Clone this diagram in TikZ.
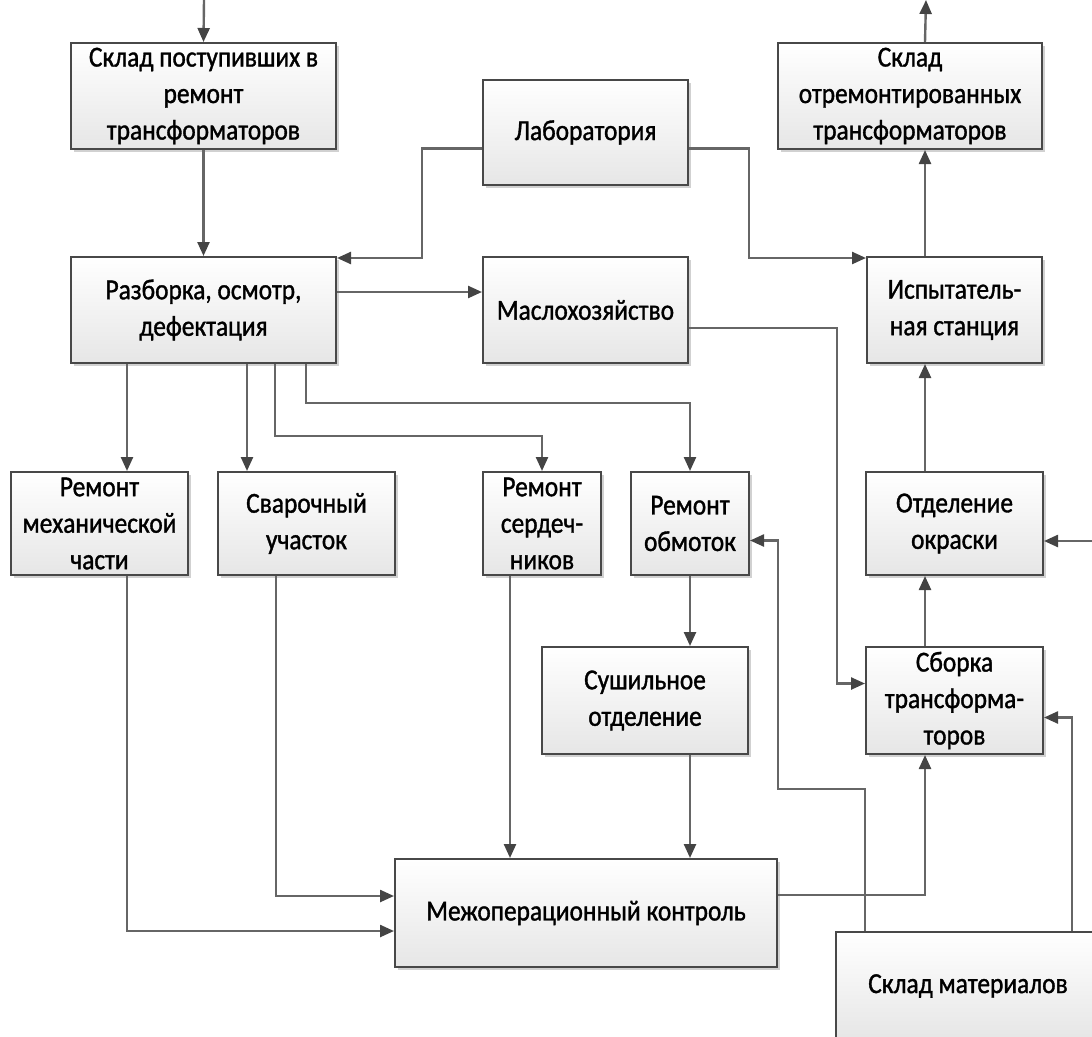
\documentclass[tikz,border=0pt]{standalone}
\usepackage{fontspec}
\setmainfont{Carlito}[FakeStretch=0.875,FakeBold=1.2]
\usepackage{tikz}
\usetikzlibrary{arrows.meta,positioning,calc,shadows}
\definecolor{edge}{HTML}{484848}
\definecolor{wire}{HTML}{666666}
\definecolor{tip}{HTML}{444444}
\definecolor{shade}{HTML}{E6E6E6}

\begin{document}
\begin{tikzpicture}[x=1pt,y=-1pt,
      font=\fontsize{29pt}{36.5pt}\selectfont,
      box/.style={draw=edge,line width=2pt,top color=white,bottom color=shade,
                  align=center,inner sep=0pt,
                  drop shadow={shadow xshift=2.5pt,shadow yshift=-2.5pt,
                               fill=black!40,opacity=0.45}},
      arr/.style={wire,line width=2.4pt,
                  -{Triangle[length=14pt,width=12pt,color=tip]}}]
    \useasboundingbox (0,0) rectangle (1092,1036);
    \node[box,minimum width=265pt,minimum height=106pt] (sklIn) at (203.5,96)
      {Склад поступивших в\\ремонт\\трансформаторов};
    \node[box,minimum width=205pt,minimum height=105pt] (lab) at (585.5,132.5)
      {Лаборатория};
    \node[box,minimum width=264pt,minimum height=106pt] (sklOut) at (910,96)
      {Склад\\отремонтированных\\трансформаторов};
    \node[box,minimum width=265pt,minimum height=106pt] (razb) at (203.5,310)
      {Разборка, осмотр,\\дефектация};
    \node[box,minimum width=205pt,minimum height=106pt] (masl) at (585.5,310)
      {Маслохозяйство};
    \node[box,minimum width=175pt,minimum height=106pt] (isp) at (954.5,310)
      {Испытатель-\\ная станция};
    \node[box,minimum width=177pt,minimum height=103pt] (mekh) at (99.5,523.5)
      {Ремонт\\механической\\части};
    \node[box,minimum width=177pt,minimum height=103pt] (svar) at (306.5,523.5)
      {Сварочный\\участок};
    \node[box,minimum width=118pt,minimum height=103pt] (serd) at (542,523.5)
      {Ремонт\\сердеч-\\ников};
    \node[box,minimum width=118pt,minimum height=103pt] (obm) at (690,523.5)
      {Ремонт\\обмоток};
    \node[box,minimum width=177pt,minimum height=103pt] (okr) at (954.5,523.5)
      {Отделение\\окраски};
    \node[box,minimum width=206pt,minimum height=107pt] (sush) at (645,700.5)
      {Сушильное\\отделение};
    \node[box,minimum width=177pt,minimum height=107pt] (sbor) at (954.5,700.5)
      {Сборка\\трансформа-\\торов};
    \node[box,minimum width=382pt,minimum height=108pt] (mezh) at (586,913)
      {Межоперационный контроль};
    \node[box,minimum width=264pt,minimum height=108pt] (sklMat) at (968,986)
      {Склад материалов};
    \coordinate (inTop) at (204,0);
    \coordinate (outTop) at (926,0);
    \coordinate (rightIn) at (1092,541);
    \draw[arr] (inTop) -- (sklIn.north);
    \draw[arr] (sklIn) -- (razb);
    \draw[arr] ([yshift=-16pt]lab.west) -- ++(-60,0) |- ([yshift=-2pt]razb.north east);
    \draw[arr] ([yshift=-16pt]lab.east) -- ++(60,0) |- ([yshift=-2pt]isp.north west);
    \draw[arr] ([yshift=18pt]razb.east) -- ([yshift=18pt]razb.east -| masl.west);
    \draw[arr] ([yshift=-18pt]masl.east) -- ++(148,0) |- ([yshift=17pt]sbor.west);
    \draw[arr] ([xshift=57pt]razb.south west) -- ([xshift=57pt]razb.south west |- mekh.north);
    \draw[arr] ([xshift=177pt]razb.south west) -- ([xshift=177pt]razb.south west |- svar.north);
    \draw[arr] ([xshift=205pt]razb.south west) -- ++(0,72) -| (serd.north);
    \draw[arr] ([xshift=236pt]razb.south west) -- ++(0,39) -| (obm.north);
    \draw[arr] ([xshift=117pt]mekh.south west) |- ([yshift=-18pt]mezh.west);
    \draw[arr] ([xshift=59pt]svar.south west) |- ([yshift=17pt]mezh.west);
    \draw[arr] ([xshift=28pt]serd.south west) -- ([xshift=28pt]serd.south west |- mezh.north);
    \draw[arr] (obm.south) -- (obm.south |- sush.north);
    \draw[arr] (obm.south |- sush.south) -- (obm.south |- mezh.north);
    \draw[arr] ([yshift=18pt]mezh.east) -| ([xshift=60pt]sbor.south west);
    \draw[arr] ([xshift=60pt]sbor.north west) -- ([xshift=60pt]okr.south west);
    \draw[arr] ([xshift=60pt]okr.north west) -- ([xshift=59pt]isp.south west);
    \draw[arr] ([xshift=59pt]isp.north west) -- ([xshift=148pt]sklOut.south west);
    \draw[arr] ([xshift=148pt]sklOut.north west) -- (outTop);
    \draw[arr] ([xshift=30pt]sklMat.north west) -- ++(0,-142) -- ++(-87,0)
      |- ([yshift=-17pt]obm.east);
    \draw[arr] ([xshift=237pt]sklMat.north west) |- ([yshift=-17pt]sbor.east);
    \draw[arr] (rightIn) -- (rightIn -| okr.east);
\end{tikzpicture}
\end{document}
